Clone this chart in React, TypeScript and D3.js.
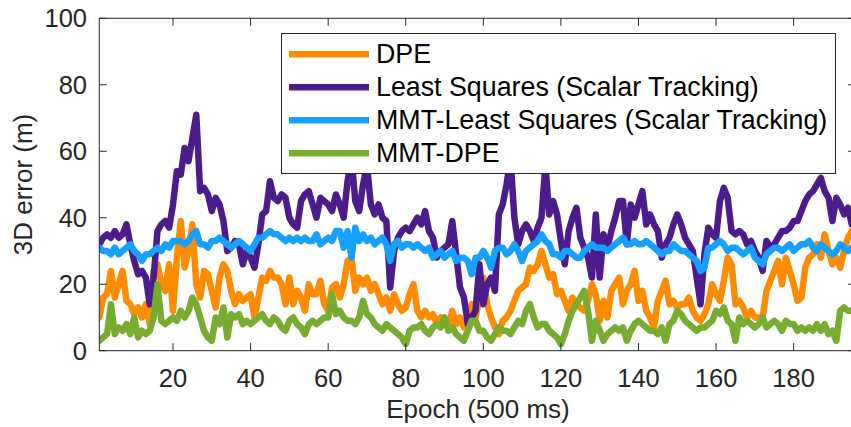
import * as d3 from 'd3'

// epoch index (500 ms steps)
const epochs = d3.range(1, 196)

// 3D error (m)
const dpe = [
  10, 16, 17, 24, 16, 20, 24, 15, 14, 11,
  13, 10, 14, 8, 24, 26, 20, 18, 26, 12,
  28, 39, 25, 30, 38, 20, 16, 24, 23, 18,
  13, 22, 26, 24, 18, 14, 17, 15, 16, 17,
  10, 16, 22, 21, 24, 22, 22, 20, 14, 22,
  14, 18, 16, 12, 20, 17, 17, 21, 14, 12,
  19, 20, 16, 20, 27, 28, 18, 22, 20, 22,
  18, 20, 17, 14, 16, 12, 17, 14, 12, 13,
  17, 20, 12, 10, 12, 10, 11, 8, 10, 9,
  7, 12, 8, 10, 7, 9, 14, 10, 16, 22,
  14, 10, 7, 5, 9, 10, 12, 15, 18, 19,
  20, 25, 24, 26, 30, 26, 22, 23, 17, 18,
  15, 12, 16, 14, 13, 12, 15, 20, 17, 9,
  15, 10, 18, 20, 22, 14, 18, 20, 24, 15,
  18, 12, 10, 7, 15, 18, 21, 14, 15, 13,
  14, 14, 16, 12, 10, 9, 11, 14, 20, 17,
  15, 21, 28, 26, 14, 15, 13, 10, 12, 10,
  10, 10, 18, 21, 24, 27, 20, 28, 24, 20,
  15, 16, 25, 28, 29, 32, 28, 35, 30, 26,
  28, 25, 30, 34, 36,
]

const leastSquares = [
  32, 34, 35, 34, 36, 34, 35, 38, 32, 27,
  23, 24, 22, 14, 22, 36, 38, 39, 37, 44,
  54, 53, 61, 57, 64, 71, 48, 49, 47, 42,
  46, 44, 39, 30, 31, 33, 32, 26, 30, 28,
  25, 32, 41, 42, 51, 46, 45, 47, 46, 40,
  38, 37, 45, 47, 48, 44, 40, 46, 45, 44,
  42, 47, 44, 40, 51, 58, 45, 42, 50, 56,
  44, 41, 44, 40, 39, 19, 30, 34, 36, 37,
  36, 38, 40, 38, 42, 36, 34, 28, 30, 31,
  32, 39, 29, 19, 16, 8, 10, 12, 26, 14,
  20, 22, 18, 41, 44, 50, 58, 40, 32, 36,
  38, 36, 33, 37, 40, 56, 41, 45, 41, 33,
  26, 36, 40, 43, 34, 31, 28, 22, 41, 22,
  35, 31, 36, 40, 45, 45, 32, 44, 40, 44,
  48, 38, 41, 38, 36, 28, 32, 34, 38, 41,
  38, 34, 32, 30, 22, 14, 29, 37, 35, 34,
  45, 49, 46, 36, 35, 36, 35, 32, 33, 30,
  28, 24, 33, 31, 32, 34, 36, 36, 37, 39,
  39, 42, 45, 47, 48, 50, 52, 48, 46, 39,
  46, 44, 41, 43, 38,
]

const mmtLeastSquares = [
  31, 30, 30, 29, 31, 29, 30, 31, 32, 30,
  29, 27, 29, 29, 30, 31, 30, 32, 31, 33,
  33, 33, 32, 33, 35, 36, 32, 32, 31, 33,
  33, 34, 33, 32, 31, 32, 33, 32, 31, 30,
  32, 34, 34, 35, 36, 35, 35, 34, 33, 34,
  33, 34, 33, 34, 33, 33, 35, 32, 33, 34,
  33, 36, 36, 31, 36, 28, 37, 33, 35, 33,
  34, 32, 33, 34, 32, 27, 32, 33, 31, 32,
  32, 31, 32, 31, 30, 31, 28, 29, 30, 28,
  29, 30, 27, 28, 28, 27, 23, 28, 28, 30,
  28, 25, 30, 31, 31, 29, 30, 32, 30, 27,
  30, 31, 32, 33, 35, 33, 32, 29, 29, 28,
  30, 30, 29, 28, 28, 30, 31, 32, 31, 31,
  31, 30, 31, 32, 33, 34, 32, 32, 33, 32,
  32, 33, 32, 31, 30, 29, 30, 30, 32, 31,
  30, 30, 29, 28, 27, 24, 25, 31, 31, 32,
  33, 32, 30, 31, 31, 30, 29, 30, 31, 28,
  27, 26, 29, 30, 31, 31, 30, 31, 32, 30,
  31, 32, 32, 33, 31, 30, 32, 31, 30, 29,
  30, 32, 31, 30, 31,
]

const mmtDpe = [
  3, 4, 5, 14, 5, 7, 6, 8, 5, 10,
  4, 6, 5, 6, 10, 20, 9, 8, 9, 10,
  9, 12, 10, 12, 16, 14, 10, 6, 4, 3,
  10, 8, 13, 4, 11, 10, 11, 8, 9, 8,
  9, 10, 11, 9, 8, 10, 9, 7, 6, 9,
  10, 8, 7, 5, 8, 9, 8, 9, 10, 10,
  17, 11, 12, 10, 9, 9, 8, 10, 15, 11,
  10, 8, 7, 6, 8, 7, 6, 5, 4, 2,
  6, 7, 7, 8, 6, 5, 7, 8, 7, 10,
  6, 7, 5, 4, 3, 6, 9, 9, 6, 6,
  4, 3, 5, 7, 6, 6, 5, 7, 9, 8,
  12, 14, 10, 7, 8, 8, 6, 5, 4, 2,
  5, 9, 12, 14, 16, 18, 12, 3, 9, 6,
  3, 5, 6, 7, 6, 7, 3, 6, 8, 9,
  8, 7, 6, 6, 5, 7, 3, 8, 9, 12,
  11, 9, 8, 7, 6, 7, 7, 8, 9, 12,
  11, 13, 9, 8, 3, 10, 8, 9, 8, 7,
  8, 10, 7, 8, 9, 8, 6, 9, 8, 8,
  6, 7, 6, 7, 6, 8, 6, 8, 5, 6,
  3, 12, 13, 12, 12,
]

const seriesNames = ['DPE', 'Least Squares (Scalar Tracking)', 'MMT-Least Squares (Scalar Tracking)', 'MMT-DPE']
const seriesValues = [dpe, leastSquares, mmtLeastSquares, mmtDpe]
const colors = ['#FF8C00', '#4D1C8C', '#16A0FF', '#77AC30']

const xTicks = [20, 40, 60, 80, 100, 120, 140, 160, 180]
const yTicks = [0, 20, 40, 60, 80, 100]

const font = '"Liberation Sans", Arial, sans-serif'
const axisColor = '#262626'

export default function App() {
  const width = 851
  const height = 427

  const x = d3.scaleLinear().domain([1, 196]).range([99.3, 855.7])
  const y = d3.scaleLinear().domain([0, 100]).range([350.7, 18.3])

  const [x0, x1] = x.range()
  const [yb, yt] = y.range()

  const line = d3
    .line<number>()
    .x((_, i) => x(epochs[i]))
    .y((d) => y(d))

  const tickLen = 7.5

  // legend layout
  const lg = { x: 281.5, y: 33.5, w: 554, h: 140 }
  const rowY = (i: number) => 54.3 + i * 33

  return (
    <svg
      width={width}
      height={height}
      style={{ position: 'absolute', left: 0, top: 0, background: '#fff' }}
      fontFamily={font}
    >
      <defs>
        <clipPath id="plot">
          <rect x={x0} y={yt} width={x1 - x0} height={yb - yt} />
        </clipPath>
      </defs>

      <rect x={0} y={0} width={width} height={height} fill="#fff" />

      <g clipPath="url(#plot)">
        {seriesValues.map((vals, i) => (
          <path
            key={seriesNames[i]}
            d={line(vals) || ''}
            fill="none"
            stroke={colors[i]}
            strokeWidth={6.5}
            strokeLinejoin="round"
            strokeLinecap="round"
          />
        ))}
      </g>

      {/* axes box */}
      <rect x={x0} y={yt} width={x1 - x0} height={yb - yt} fill="none" stroke={axisColor} strokeWidth={1} />

      {xTicks.map((t) => (
        <g key={'x' + t}>
          <line x1={x(t)} x2={x(t)} y1={yb} y2={yb - tickLen} stroke={axisColor} />
          <line x1={x(t)} x2={x(t)} y1={yt} y2={yt + tickLen} stroke={axisColor} />
          <text x={x(t)} y={387} textAnchor="middle" fontSize={25.5} fill={axisColor}>
            {t}
          </text>
        </g>
      ))}

      {yTicks.map((t) => (
        <g key={'y' + t}>
          <line x1={x0} x2={x0 + tickLen} y1={y(t)} y2={y(t)} stroke={axisColor} />
          <line x1={x1} x2={x1 - tickLen} y1={y(t)} y2={y(t)} stroke={axisColor} />
          <text x={87} y={y(t) + 9} textAnchor="end" fontSize={25.5} fill={axisColor}>
            {t}
          </text>
        </g>
      ))}

      <text x={478} y={418} textAnchor="middle" fontSize={26} fill={axisColor}>
        Epoch (500 ms)
      </text>
      <text
        transform={`translate(32,${(yt + yb) / 2}) rotate(-90)`}
        textAnchor="middle"
        fontSize={26}
        fill={axisColor}
      >
        3D error (m)
      </text>

      {/* legend */}
      <rect x={lg.x} y={lg.y} width={lg.w} height={lg.h} fill="#fff" stroke={axisColor} strokeWidth={1} />
      {seriesNames.map((name, i) => (
        <g key={'lg' + name}>
          <line x1={289} x2={369} y1={rowY(i)} y2={rowY(i)} stroke={colors[i]} strokeWidth={6.5} />
          <text x={376} y={rowY(i) + 9} fontSize={26.8} fill="#000">
            {name}
          </text>
        </g>
      ))}
    </svg>
  )
}
